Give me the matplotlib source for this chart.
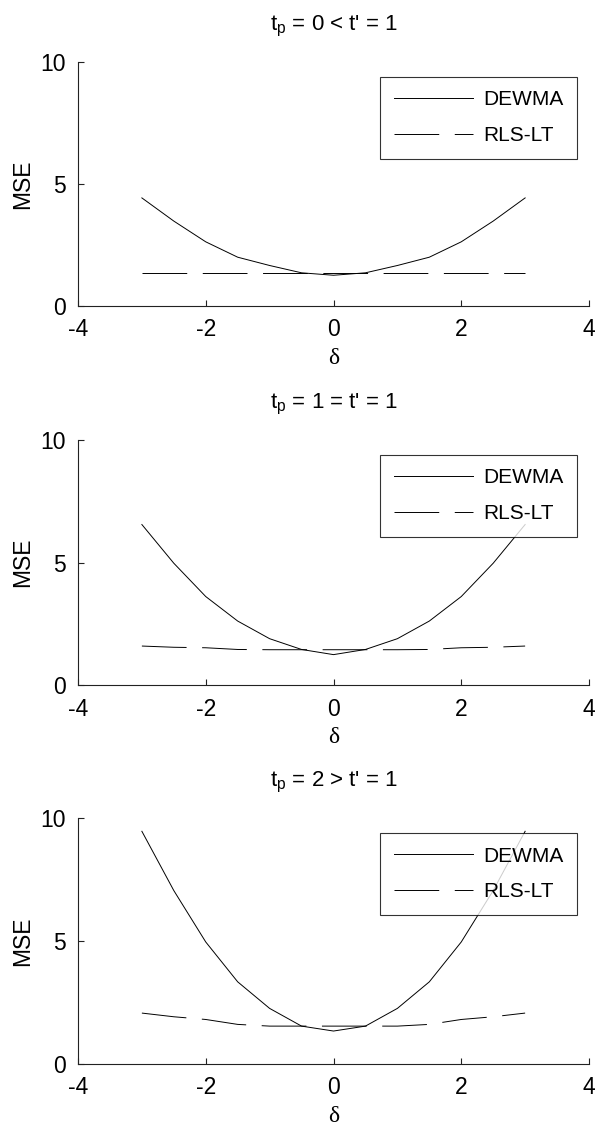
import matplotlib
matplotlib.use("Agg")
import matplotlib.pyplot as plt

delta = [-3, -2.5, -2, -1.5, -1, -0.5, 0, 0.5, 1, 1.5, 2, 2.5, 3]

dewma_1 = [4.43, 3.48, 2.63, 2.00, 1.66, 1.36, 1.26, 1.36, 1.66, 2.00, 2.63, 3.48, 4.43]
rls_1 = [1.36, 1.36, 1.36, 1.36, 1.36, 1.36, 1.36, 1.36, 1.36, 1.36, 1.36, 1.36, 1.36]

dewma_2 = [6.55, 4.97, 3.61, 2.61, 1.89, 1.45, 1.24, 1.45, 1.89, 2.61, 3.61, 4.97, 6.55]
rls_2 = [1.59, 1.54, 1.52, 1.45, 1.44, 1.44, 1.44, 1.44, 1.44, 1.45, 1.52, 1.54, 1.59]

dewma_3 = [9.46, 7.05, 4.96, 3.34, 2.26, 1.54, 1.34, 1.54, 2.26, 3.34, 4.96, 7.05, 9.46]
rls_3 = [2.07, 1.92, 1.81, 1.61, 1.54, 1.54, 1.54, 1.54, 1.54, 1.61, 1.81, 1.92, 2.07]

titles = ["t$_\\mathregular{p}$ = 0 < t' = 1",
          "t$_\\mathregular{p}$ = 1 = t' = 1",
          "t$_\\mathregular{p}$ = 2 > t' = 1"]
labels = ["DEWMA", "RLS-LT"]
xticks = [-4, -2, 0, 2, 4]
yticks = [0, 5, 10]

main = 'Liberation Sans'
plt.rcParams['font.family'] = [main, 'DejaVu Sans']
plt.rcParams['mathtext.fontset'] = 'custom'
plt.rcParams['mathtext.rm'] = main
plt.rcParams['axes.unicode_minus'] = False

W, H = 597, 1133
fig = plt.figure(figsize=(W / 100, H / 100), dpi=100)

tops = [62, 440, 818]
bottoms = [306, 685, 1064]
left_px, right_px = 78, 589

series = [(dewma_1, rls_1), (dewma_2, rls_2), (dewma_3, rls_3)]

for i in range(3):
    ax = fig.add_axes([left_px / W, 1 - bottoms[i] / H,
                       (right_px - left_px) / W, (bottoms[i] - tops[i]) / H])
    d, r = series[i]
    ax.plot(delta, d, color='black', lw=0.7, label=labels[0])
    ln, = ax.plot(delta, r, color='black', lw=0.7, label=labels[1])
    ln.set_dashes([46, 16])
    ax.set_xlim(-4, 4)
    ax.set_ylim(0, 10)
    ax.set_xticks(xticks)
    ax.set_yticks(yticks)
    ax.spines['top'].set_visible(False)
    ax.spines['right'].set_visible(False)
    for s in ['left', 'bottom']:
        ax.spines[s].set_linewidth(0.8)
        ax.spines[s].set_color('#222222')
    ax.tick_params(direction='in', length=4, width=0.8, labelsize=16.5, pad=9,
                   color='#222222')
    ax.set_ylabel('MSE', fontsize=16.5, labelpad=4)
    ax.set_xlabel('δ', fontsize=17, family=['Liberation Serif', 'DejaVu Serif'], labelpad=5)
    ax.set_title(titles[i], fontsize=16, pad=23)
    leg = ax.legend(loc='upper right', bbox_to_anchor=(0.977, 0.94), fontsize=15,
                    frameon=True, fancybox=False, edgecolor='black', handlelength=3.8,
                    borderpad=0.66, labelspacing=0.8, handletextpad=0.5, borderaxespad=0)
    leg.get_frame().set_linewidth(0.8)

fig.savefig('out.png', dpi=100)
